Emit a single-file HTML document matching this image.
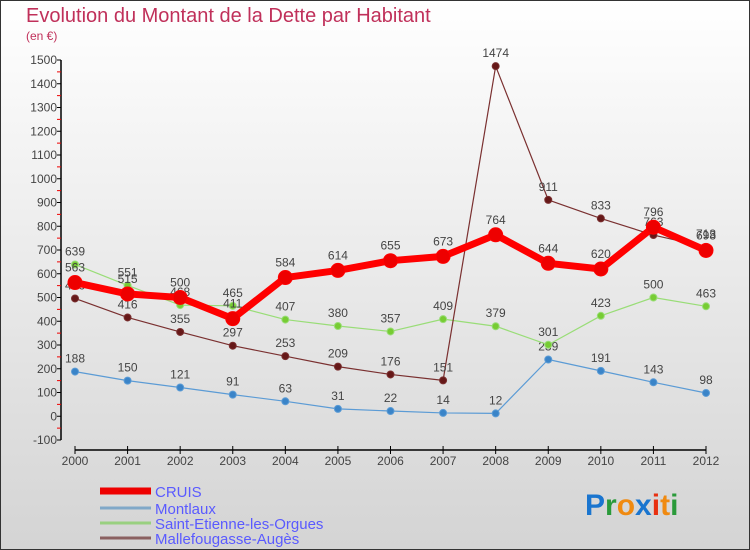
<!DOCTYPE html>
<html><head><meta charset="utf-8"><style>
body{margin:0;}
#c{width:750px;height:550px;position:relative;overflow:hidden;font-family:"Liberation Sans",sans-serif;}
</style></head><body>
<div id="c">
<svg id="s" width="750" height="550" xmlns="http://www.w3.org/2000/svg">
<defs><linearGradient id="bg" x1="0" y1="0" x2="0" y2="1"><stop offset="0" stop-color="#ffffff"/><stop offset="1" stop-color="#d4d4d4"/></linearGradient></defs>
<rect x="0.5" y="0.5" width="749" height="549" fill="url(#bg)" stroke="#333"/>
<text x="26" y="22" font-size="20" fill="#c0305a">Evolution du Montant de la Dette par Habitant</text>
<text x="26" y="40" font-size="12" fill="#c0305a">(en €)</text>
<g id="g"></g>
<text x="585" y="515" font-size="30" font-weight="bold"><tspan fill="#1a75cf">P</tspan><tspan fill="#2a9a3a">r</tspan><tspan fill="#f08a10">o</tspan><tspan fill="#1a75cf">x</tspan><tspan fill="#e83010">i</tspan><tspan fill="#f08a10">t</tspan><tspan fill="#2a9a3a">i</tspan></text>
</svg>
</div>
<script>
const years=[2000,2001,2002,2003,2004,2005,2006,2007,2008,2009,2010,2011,2012];
const cruis=[563,515,500,411,584,614,655,673,764,644,620,796,698];
const montlaux=[188,150,121,91,63,31,22,14,12,239,191,143,98];
const stEtienne=[639,551,468,465,407,380,357,409,379,301,423,500,463];
const malle=[496,416,355,297,253,209,176,151,1474,911,833,763,713];
const yTicks=[-100,0,100,200,300,400,500,600,700,800,900,1000,1100,1200,1300,1400,1500];
const NS="http://www.w3.org/2000/svg";
const g=document.getElementById('g');
const X=i=>75+i*(706-75)/(years.length-1);
const Y=v=>416.25-v*0.2375;
function mk(t,a,p){const e=document.createElementNS(NS,t);for(const k in a)e.setAttribute(k,a[k]);(p||g).appendChild(e);return e;}
// axes
let ax=mk('line',{x1:61,y1:Y(1500),x2:61,y2:Y(-100),stroke:'#000','stroke-width':1.5});


yTicks.forEach(v=>{
 mk('line',{x1:57,y1:Y(v),x2:61,y2:Y(v),stroke:'#000'});
 if(v<1500) mk('line',{x1:57,y1:Y(v+50),x2:61,y2:Y(v+50),stroke:'#e00'});
 const t=mk('text',{x:57,y:Y(v)+4,'font-size':12,'text-anchor':'end',fill:'#444'});t.textContent=v;
 
 
});
let xa=mk('line',{x1:X(0),y1:450,x2:X(12),y2:450,stroke:'#000','stroke-width':1.5});


years.forEach((y,i)=>{
 mk('line',{x1:X(i),y1:446,x2:X(i),y2:454,stroke:'#000'});
 const t=mk('text',{x:X(i),y:465,'font-size':12,'text-anchor':'middle',fill:'#444'});t.textContent=y;
 
 
});
function series(vals,color,dot,w,r,name,labOff){
 const grp=mk('g',{});
 
 
 mk('polyline',{points:vals.map((v,i)=>X(i)+','+Y(v)).join(' '),fill:'none',stroke:color,'stroke-width':w,'stroke-linejoin':'round'},grp);
 vals.forEach((v,i)=>{
  const c=mk('circle',{cx:X(i),cy:Y(v),r:r,fill:dot,stroke:color,'stroke-width':1},grp);
  
  
  const t=mk('text',{x:X(i),y:Y(v)+labOff,'font-size':12,'text-anchor':'middle',fill:'#444'},grp);t.textContent=v;
 });
}
series(montlaux,'#5b9bd5','#3a84c8',1.2,3.5,'montlaux',-9);
series(stEtienne,'#99dd77','#77cc33',1.2,3.5,'saint-etienne',-9);
series(malle,'#7a3030','#661818',1.2,3.5,'mallefougasse',-9);
series(cruis,'#ff0000','#ee0000',7,7,'cruis',-11);
// legend
const leg=[['CRUIS','#ee0000',7],['Montlaux','#80a8c8',3],['Saint-Etienne-les-Orgues','#99d080',3],['Mallefougasse-Augès','#8a6060',3]];
const ly=[491,508,523,538];
leg.forEach((l,i)=>{
 const grp=mk('g',{});
 
 
 mk('line',{x1:100,y1:ly[i],x2:151,y2:ly[i],stroke:l[1],'stroke-width':l[2]},grp);
 const t=mk('text',{x:155,y:ly[i]+6,'font-size':15,fill:'#5a5aff'},grp);t.textContent=l[0];
});
</script>
</body></html>
